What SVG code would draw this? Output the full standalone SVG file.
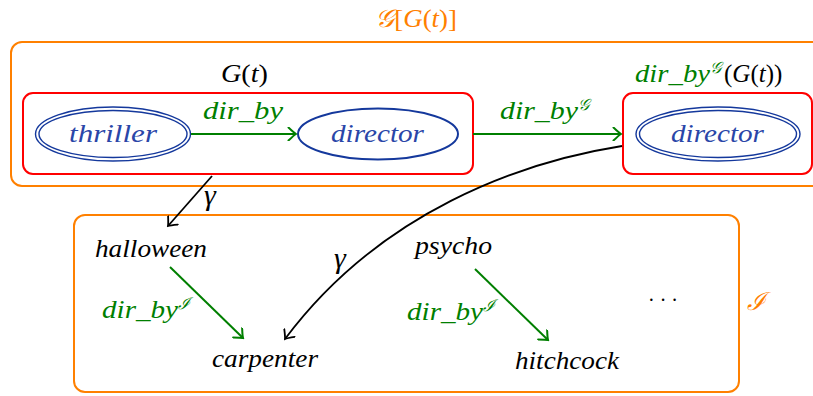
<svg xmlns="http://www.w3.org/2000/svg" width="813" height="396" viewBox="0 0 813 396">
  <style>
    text { font-family: "Liberation Serif", "DejaVu Serif", serif; }
    .math { font-style: italic; font-size: 25px; }
    .up { font-style: normal; }
    .sup { font-size: 16px; }
    .gamma { font-size: 30px; }
    .blue { fill: #2a46a8; }
    .green { fill: #007f00; }
    .black { fill: #000; }
    .orange { fill: #ff8000; }
    .orangebox { fill: none; stroke: #ff8000; stroke-width: 2; }
    .redbox { fill: none; stroke: #ff0000; stroke-width: 2; }
    .ell { fill: none; stroke: #14389c; stroke-width: 2; }
    .ell2 { fill: none; stroke: #14389c; stroke-width: 1.4; }
    .gline { fill: none; stroke: #007f00; stroke-width: 2; }
    .kline { fill: none; stroke: #000; stroke-width: 1.8; }
  </style>
  <defs>
    <marker id="to-green" viewBox="-9 -7 11 14" markerWidth="11" markerHeight="14" refX="0" refY="0" orient="auto" markerUnits="userSpaceOnUse">
      <path d="M-7.5,-6.5 Q-2,-1.2 0,0 Q-2,1.2 -7.5,6.5" fill="none" stroke="#007f00" stroke-width="2" stroke-linecap="round"/>
    </marker>
    <marker id="to-black" viewBox="-9 -7 11 14" markerWidth="11" markerHeight="14" refX="0" refY="0" orient="auto" markerUnits="userSpaceOnUse">
      <path d="M-7.5,-6.5 Q-2,-1.2 0,0 Q-2,1.2 -7.5,6.5" fill="none" stroke="#000" stroke-width="1.8" stroke-linecap="round"/>
    </marker>
  </defs>

  <!-- outer collection G[G(t)] -->
  <g id="collection">
    <rect class="orangebox" x="11" y="42" width="820" height="144" rx="11"/>
    <text class="math orange" x="375" y="27" textLength="82" lengthAdjust="spacingAndGlyphs">𝒢<tspan class="up">[</tspan>G<tspan class="up">(</tspan>t<tspan class="up">)]</tspan></text>
  </g>

  <!-- interpretation box I -->
  <g id="interpretation">
    <rect class="orangebox" x="74" y="215" width="665" height="177" rx="11"/>
    <text class="math orange" x="756" y="310" text-anchor="middle">ℐ</text>
  </g>

  <!-- G(t) -->
  <g id="graph-gt">
    <rect class="redbox" x="23" y="93" width="450" height="81" rx="10"/>
    <text class="math black" x="221" y="82" textLength="47" lengthAdjust="spacingAndGlyphs">G<tspan class="up">(</tspan>t<tspan class="up">)</tspan></text>
  </g>

  <g id="node-thriller">
    <ellipse class="ell2" cx="113" cy="134" rx="77.5" ry="27"/>
    <ellipse class="ell2" cx="113" cy="134" rx="74" ry="23.5"/>
    <text class="math blue" x="69" y="142" textLength="88" lengthAdjust="spacingAndGlyphs">thriller</text>
  </g>

  <g id="node-director">
    <ellipse class="ell" cx="378" cy="134" rx="80" ry="25.5"/>
    <text class="math blue" x="331" y="142" textLength="93" lengthAdjust="spacingAndGlyphs">director</text>
  </g>

  <!-- dir_by^G(G(t)) -->
  <g id="graph-image">
    <rect class="redbox" x="623" y="93" width="189" height="81" rx="10"/>
    <text class="math green" x="635" y="82"><tspan textLength="75" lengthAdjust="spacingAndGlyphs">dir_by</tspan><tspan class="sup" dy="-9">𝒢</tspan><tspan class="up black" dx="3" dy="9">(</tspan><tspan class="black">G</tspan><tspan class="up black">(</tspan><tspan class="black">t</tspan><tspan class="up black">))</tspan></text>
  </g>

  <g id="node-director-image">
    <ellipse class="ell2" cx="718" cy="134" rx="82" ry="27"/>
    <ellipse class="ell2" cx="718" cy="134" rx="78.5" ry="23.5"/>
    <text class="math blue" x="671" y="142" textLength="93" lengthAdjust="spacingAndGlyphs">director</text>
  </g>

  <!-- individuals -->
  <g id="node-halloween"><text class="math black" x="95" y="257" textLength="112" lengthAdjust="spacingAndGlyphs">halloween</text></g>
  <g id="node-carpenter"><text class="math black" x="212" y="367" textLength="106" lengthAdjust="spacingAndGlyphs">carpenter</text></g>
  <g id="node-psycho"><text class="math black" x="415" y="254" textLength="77" lengthAdjust="spacingAndGlyphs">psycho</text></g>
  <g id="node-hitchcock"><text class="math black" x="515" y="369" textLength="104" lengthAdjust="spacingAndGlyphs">hitchcock</text></g>
  <g id="node-more"><text class="black" x="663" y="307" font-size="20" text-anchor="middle">· · ·</text></g>

  <!-- connectors -->
  <g id="connectors">
    <path class="gline" d="M191,134 H296" marker-end="url(#to-green)"/>
    <text class="math green" x="203" y="119" textLength="80" lengthAdjust="spacingAndGlyphs">dir_by</text>

    <path class="gline" d="M473,134 H621" marker-end="url(#to-green)"/>
    <text class="math green" x="500" y="119"><tspan textLength="78" lengthAdjust="spacingAndGlyphs">dir_by</tspan><tspan class="sup" dy="-9">𝒢</tspan></text>

    <path class="kline" d="M212,176 L168,226" marker-end="url(#to-black)"/>
    <text class="math gamma black" x="210" y="205" text-anchor="middle">γ</text>

    <path class="kline" d="M622,146 C520,162 380,212 285,339" marker-end="url(#to-black)"/>
    <text class="math gamma black" x="340" y="268" text-anchor="middle">γ</text>

    <path class="gline" d="M170,267 L243,338" marker-end="url(#to-green)"/>
    <text class="math green" x="102" y="318"><tspan textLength="76" lengthAdjust="spacingAndGlyphs">dir_by</tspan><tspan class="sup" dy="-9">ℐ</tspan></text>

    <path class="gline" d="M475,269 L548,340" marker-end="url(#to-green)"/>
    <text class="math green" x="407" y="320"><tspan textLength="76" lengthAdjust="spacingAndGlyphs">dir_by</tspan><tspan class="sup" dy="-9">ℐ</tspan></text>
  </g>
</svg>
